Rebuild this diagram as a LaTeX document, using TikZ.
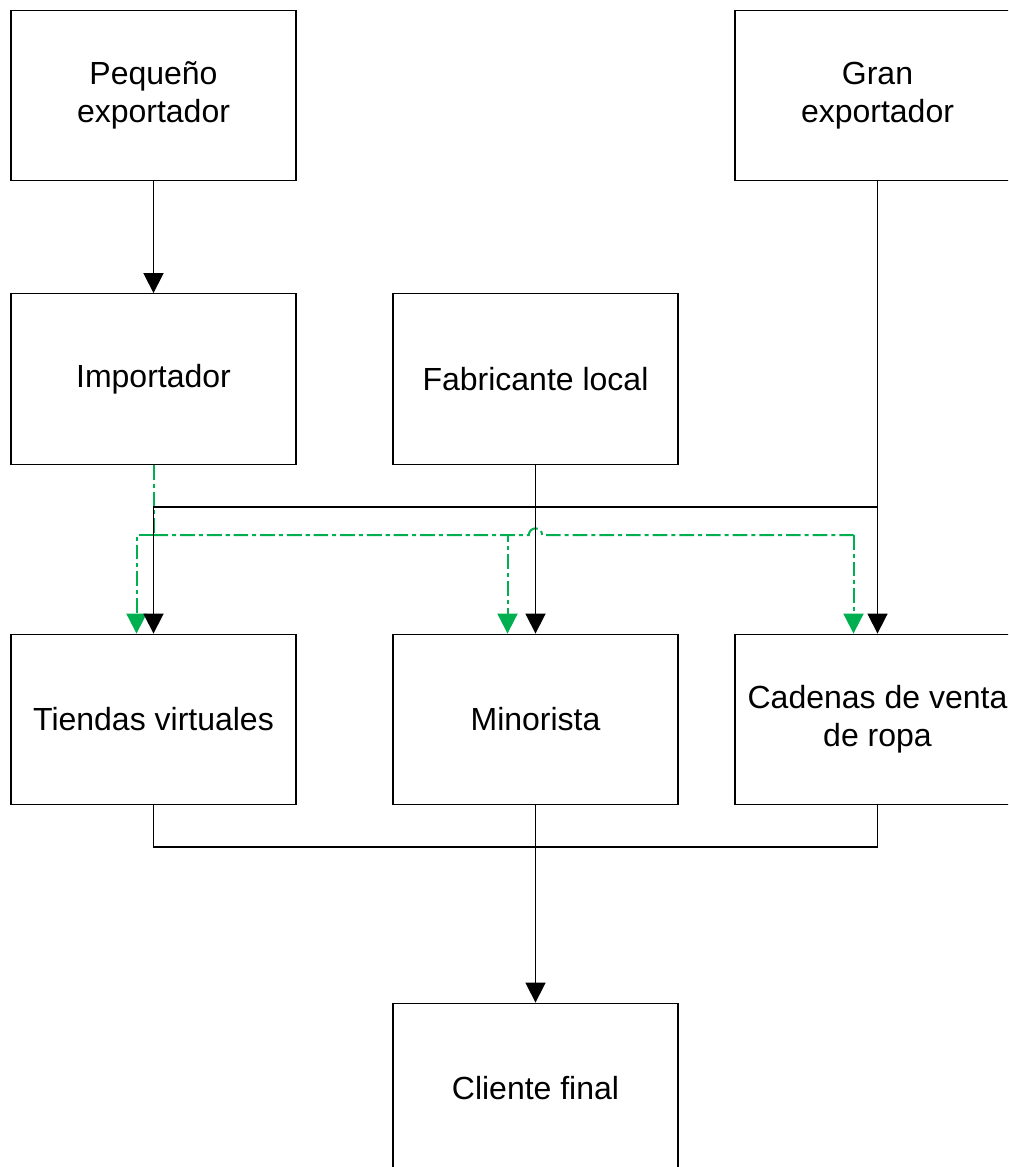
\documentclass[tikz,border=0pt]{standalone}
\usepackage{fontspec}
\setmainfont{Liberation Sans}
\usetikzlibrary{arrows.meta}
\definecolor{flowgreen}{RGB}{0,176,80}
\begin{document}
\begin{tikzpicture}[x=0.75pt,y=-0.75pt,
  box/.style={draw=black,line width=0.9pt,minimum width=213.75pt,minimum height=128pt,inner sep=0pt,align=center,font=\fontsize{24}{28.5}\selectfont},
  conn/.style={draw=black,line width=1.3pt},
  arr/.style={conn,-{Triangle[length=15pt,width=15pt]}},
  gconn/.style={draw=flowgreen,line width=1.5pt,dash pattern=on 11pt off 3pt on 3pt off 3pt},
  garr/.style={gconn,-{Triangle[length=15pt,width=15pt,fill=flowgreen]}}]
\useasboundingbox (0,0) rectangle (1008,1167);
\begin{scope}
\clip (0,0) rectangle (1008,1167);
\node[box] (pe) at (153.5,95.5) {Pequeño\\exportador};
\node[box] (ge) at (877.5,95.5) {Gran\\exportador};
\node[box] (imp) at (153.5,379) {Importador};
\node[box] (fab) at (535.5,379) {Fabricante local};
\node[box] (tv) at (153.5,719.5) {Tiendas virtuales};
\node[box] (min) at (535.5,719.5) {Minorista};
\node[box] (cad) at (877.5,719.5) {Cadenas de venta\\de ropa};
\node[box] (cf) at (535.5,1088.5) {Cliente final};

\coordinate (jg) at (877.5,507);
\coordinate (jb) at (535.5,847);
\coordinate (jgr) at (153.5,535);
\coordinate (tvg) at ([xshift=-12.75pt]tv.north);
\coordinate (ming) at ([xshift=-21pt]min.north);
\coordinate (cadg) at ([xshift=-18pt]cad.north);

% green dash-dot connectors from Importador
\draw[gconn] (imp.south) -- (jgr);
\draw[garr] (jgr) -| (tvg);
\draw[garr] (jgr) -| (ming);
\draw[gconn] (jgr) -- ([xshift=-5pt]jgr -| min.north) arc[start angle=180,end angle=0,radius=5pt] -- (jgr -| cadg);
\draw[garr] (jgr -| cadg) -- (cadg);

% black connectors
\draw[arr] (pe.south) -- (imp.north);
\draw[arr] (ge.south) -- (cad.north);
\draw[arr] (jg) -| (tv.north);
\draw[arr] (fab.south) -- (min.north);
\draw[conn] (tv.south) |- (jb) -| (cad.south);
\draw[arr] (min.south) -- (cf.north);
\end{scope}
\end{tikzpicture}
\end{document}
